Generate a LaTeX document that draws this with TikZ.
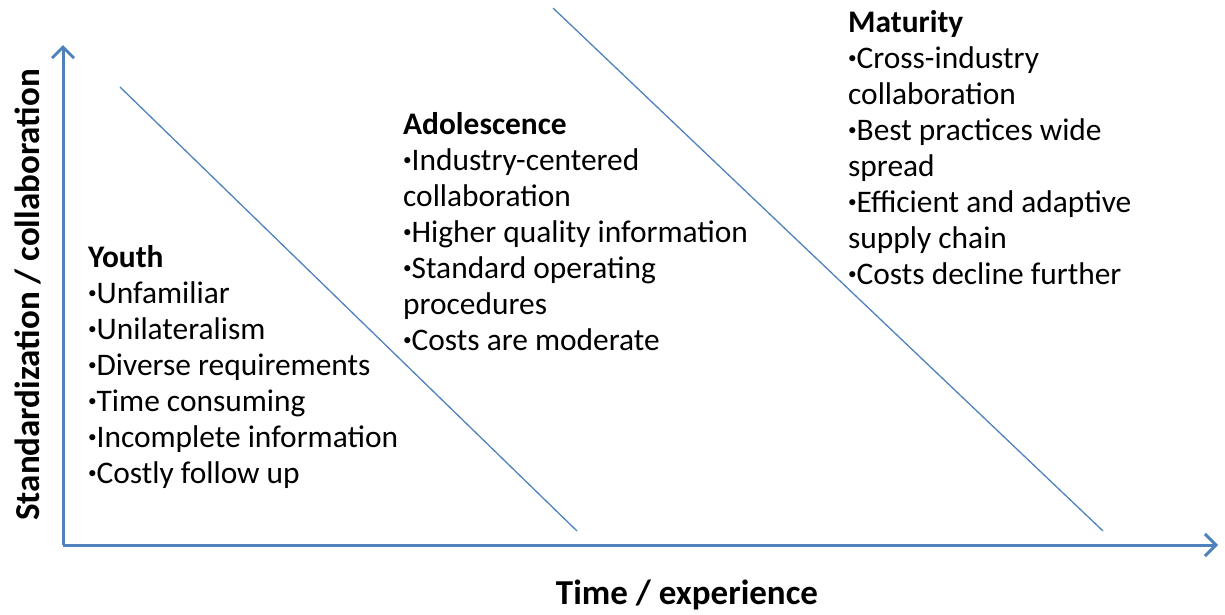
\documentclass[tikz,border=0pt]{standalone}
\usepackage{fontspec}
\setmainfont{Carlito}
\usepackage{tikz}
\usetikzlibrary{arrows.meta}
\definecolor{axisblue}{HTML}{4F81BD}
\newcommand{\itm}{\makebox[0.27em][c]{\raisebox{0.14em}{\scalebox{0.55}{•}}}}

\begin{document}
\begin{tikzpicture}[x=1pt,y=-1pt,every node/.style={inner sep=0pt, align=left, font=\fontsize{31.4}{36}\selectfont}]
      \useasboundingbox (0,0) rectangle (1225,614);
      % axes
      \coordinate (O) at (63, 545);
      \coordinate (Ytip) at (63, 45);
      \coordinate (Xtip) at (1218, 545);
      \draw[axisblue, line width=3pt, -{Straight Barb[length=11pt, width=22pt, line width=3pt]}] (O) -- (Ytip);
      \draw[axisblue, line width=3pt, -{Straight Barb[length=11pt, width=22pt, line width=3pt]}] (O) -- (Xtip);
      % stage borders
      \coordinate (A1) at (120, 87);
      \coordinate (A2) at (577, 531);
      \coordinate (B1) at (553, 8);
      \coordinate (B2) at (1103, 531);
      \draw[axisblue, line width=1.3pt] (A1) -- (A2);
      \draw[axisblue, line width=1.3pt] (B1) -- (B2);
      % axis labels
      \node[rotate=90, font=\fontsize{35}{40}\selectfont\bfseries] at (28, 295) (ylabel) {Standardization / collaboration};
      \node[font=\fontsize{35}{40}\selectfont\bfseries] at (687, 595) (xlabel) {Time / experience};
      % stages
      \node[anchor=north west] at (88, 245) (youth) {\textbf{Youth}\\
        \itm Unfamiliar\\
        \itm Unilateralism\\
        \itm Diverse requirements\\
        \itm Time consuming\\
        \itm Incomplete information\\
        \itm Costly follow up};
      \node[anchor=north west] at (403, 112) (adol) {\textbf{Adolescence}\\
        \itm Industry-centered\\
        collaboration\\
        \itm Higher quality information\\
        \itm Standard operating\\
        procedures\\
        \itm Costs are moderate};
      \node[anchor=north west] at (848, 10) (mat) {\textbf{Maturity}\\
        \itm Cross-industry\\
        collaboration\\
        \itm Best practices wide\\
        spread\\
        \itm Efficient and adaptive\\
        supply chain\\
        \itm Costs decline further};
\end{tikzpicture}
\end{document}
